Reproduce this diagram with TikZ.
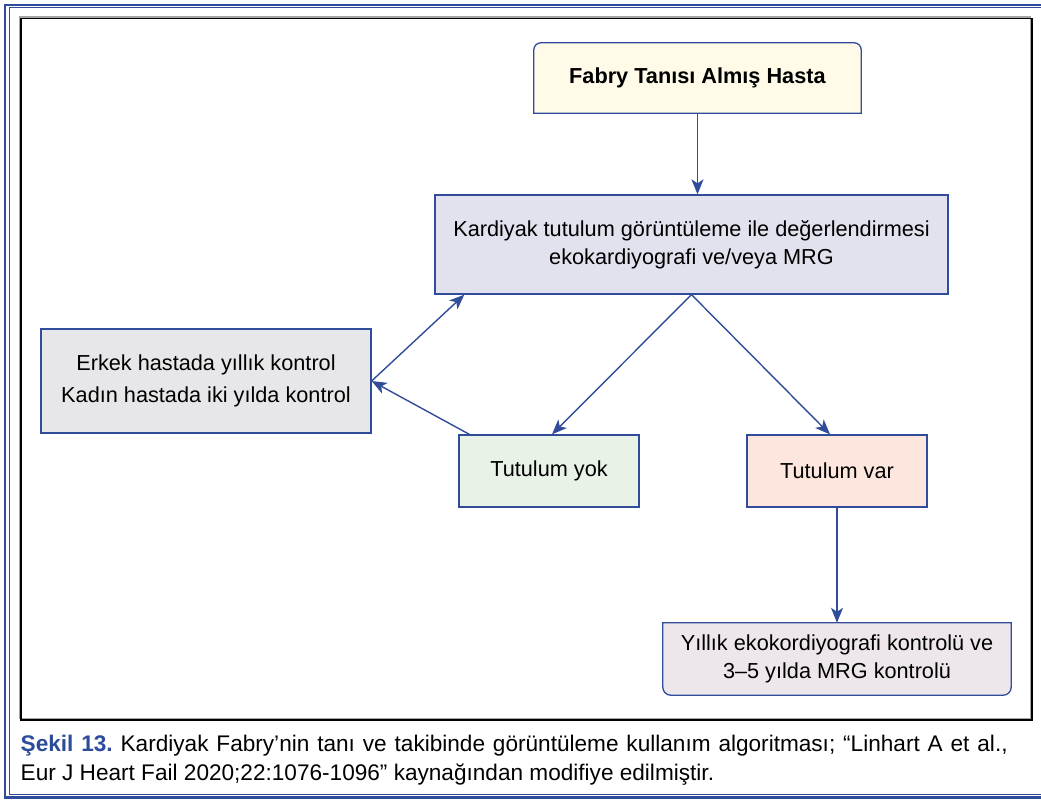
\documentclass[tikz,border=0pt]{standalone}
\usepackage{fontspec}
\setmainfont{Liberation Sans}
\usetikzlibrary{positioning, arrows.meta, backgrounds}

\definecolor{lineblue}{RGB}{48,76,155}
\definecolor{capblue}{RGB}{43,76,155}
\definecolor{fabryfill}{RGB}{255,251,232}
\definecolor{kardfill}{RGB}{226,226,238}
\definecolor{erkfill}{RGB}{231,231,233}
\definecolor{yokfill}{RGB}{232,242,230}
\definecolor{varfill}{RGB}{253,230,221}
\definecolor{yillikfill}{RGB}{237,231,235}

\frenchspacing

\begin{document}
\begin{tikzpicture}
    [
      x=1pt, y=-1pt,
      BOX/.style={rectangle, draw=lineblue, line width=1.3pt, inner sep=0pt, align=center, font=\fontsize{21.7}{28}\selectfont},
      PLAINBOX/.style={rectangle, inner sep=0pt, align=center, font=\fontsize{21.7}{28}\selectfont},
      ARROW/.style={-{Stealth[length=15pt, width=12pt, inset=4pt]}, line width=1.4pt, lineblue},
      CAPTION/.style={anchor=base west, inner sep=0pt, font=\fontsize{22.6}{29}\selectfont},
    ]

    \useasboundingbox (0,0) rectangle (1041,802);
    \clip (0,0) rectangle (1041,802);

    % frames
    \draw[lineblue, line width=2.2pt] (5.3,5) rectangle (1060,797.5);
    \draw[lineblue, line width=0.9pt] (9.5,7.8) rectangle (1060,794);
    \draw[black!35, line width=1.5pt] (19.3,16.8) rectangle (1030.5,718.5);
    \draw[black, line width=1.6pt] (20.8,18.5) rectangle (1032,720);

    \node[PLAINBOX, minimum width=327pt, minimum height=70pt] (fabry) at (697.5,78) {\textbf{Fabry Tanısı Almış Hasta}};
    \node[BOX, fill=kardfill, minimum width=513pt, minimum height=99pt] (kardiyak) at (691.5,244.5) {Kardiyak tutulum görüntüleme ile değerlendirmesi\\ekokardiyografi ve/veya MRG};
    \node[BOX, fill=erkfill, minimum width=330pt, minimum height=104pt] (erkek) at (206,381) {Erkek hastada yıllık kontrol\\[4pt]Kadın hastada iki yılda kontrol};
    \node[BOX, fill=yokfill, minimum width=180pt, minimum height=72pt] (yok) at (549,471) {Tutulum yok};
    \node[BOX, fill=varfill, minimum width=180pt, minimum height=72pt] (var) at (837,471) {Tutulum var};
    \node[PLAINBOX, minimum width=348pt, minimum height=72pt] (yillik) at (837,659) {Yıllık ekokordiyografi kontrolü ve\\3–5 yılda MRG kontrolü};

    \begin{scope}[on background layer]
      \draw[lineblue, line width=1.3pt, fill=fabryfill] (fabry.south west) -- ([yshift=-7pt]fabry.north west) arc[start angle=180, end angle=90, radius=7pt] -- ([xshift=-7pt]fabry.north east) arc[start angle=90, end angle=0, radius=7pt] -- (fabry.south east) -- cycle;
      \draw[lineblue, line width=1.3pt, fill=yillikfill] (yillik.north west) -- ([yshift=8pt]yillik.south west) arc[start angle=180, end angle=270, radius=8pt] -- ([xshift=-8pt]yillik.south east) arc[start angle=270, end angle=360, radius=8pt] -- (yillik.north east) -- cycle;
    \end{scope}

    \draw[ARROW] (fabry.south) -- (fabry.south |- kardiyak.north);
    \draw[ARROW] (kardiyak.south) -- ([xshift=3pt]yok.north);
    \draw[ARROW] (kardiyak.south) -- ([xshift=-7pt]var.north);
    \draw[ARROW] (erkek.east) -- ([xshift=30pt]kardiyak.south west);
    \draw[ARROW] ([xshift=11pt]yok.north west) -- (erkek.east);
    \draw[ARROW] (var.south) -- (yillik.north);

    \node[CAPTION] (caption1) at (20.5,751) {\makebox[987pt][s]{\textcolor{capblue}{\textbf{Şekil 13.}} Kardiyak Fabry’nin tanı ve takibinde görüntüleme kullanım algoritması; “Linhart A et al.,}};
    \node[CAPTION] (caption2) at (20.5,780) {Eur J Heart Fail 2020;22:1076-1096” kaynağından modifiye edilmiştir.};

  \end{tikzpicture}
\end{document}
